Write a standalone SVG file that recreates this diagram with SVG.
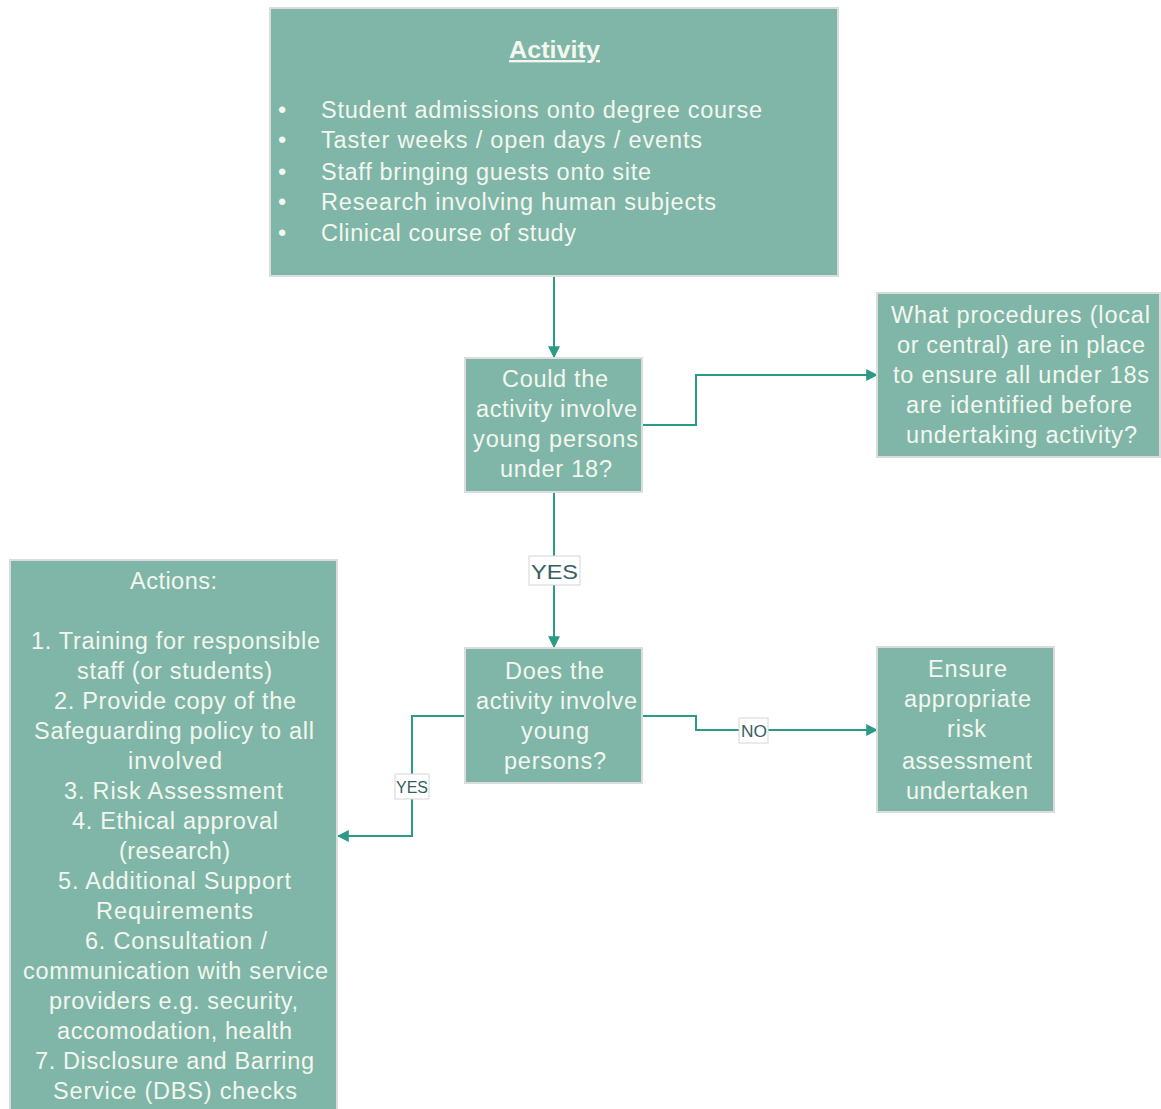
<svg xmlns="http://www.w3.org/2000/svg" width="1161" height="1109" viewBox="0 0 1161 1109">
<style>
.box{fill:#7fb6a7;stroke:#dcdcdc;stroke-width:2}
.t{font-family:"Liberation Sans",Arial,sans-serif;font-size:23.5px;fill:#f3f7ef}
.c{stroke:#2b9a86;stroke-width:2;fill:none}
.lb{fill:#ffffff;stroke:#d6d6d6;stroke-width:1}
.lt{font-family:"Liberation Sans",Arial,sans-serif;fill:#345f62}
</style>
<defs>
<marker id="ah" viewBox="0 0 10 10" refX="9" refY="5" markerWidth="6" markerHeight="6" orient="auto" markerUnits="strokeWidth">
<path d="M0,0 L10,5 L0,10 z" fill="#2b9a86"/>
</marker>
</defs>
<rect width="1161" height="1109" fill="#ffffff"/>
<g id="connectors">
<path class="c" d="M554,276 V357" marker-end="url(#ah)"/>
<path class="c" d="M642,425 H696 V375 H877" marker-end="url(#ah)"/>
<path class="c" d="M554,492 V647" marker-end="url(#ah)"/>
<path class="c" d="M642,716 H696 V730 H877" marker-end="url(#ah)"/>
<path class="c" d="M465,716 H412 V836 H338" marker-end="url(#ah)"/>
<rect class="lb" x="529" y="556" width="51" height="29"/>
<text class="lt" x="531" y="579" font-size="21" textLength="47" lengthAdjust="spacingAndGlyphs">YES</text>
<rect class="lb" x="739" y="718" width="29" height="25"/>
<text class="lt" x="741" y="737" font-size="16" textLength="26" lengthAdjust="spacingAndGlyphs">NO</text>
<rect class="lb" x="395" y="774" width="34" height="25"/>
<text class="lt" x="396" y="793" font-size="16" textLength="32" lengthAdjust="spacingAndGlyphs">YES</text>
</g>
<g id="activity">
<rect class="box" x="270" y="8" width="568" height="268"/>
<text class="t" x="509" y="58" font-weight="bold" text-decoration="underline" textLength="91" lengthAdjust="spacingAndGlyphs">Activity</text>
<text class="t" x="278" y="118">•</text>
<text class="t" x="278" y="148">•</text>
<text class="t" x="278" y="180">•</text>
<text class="t" x="278" y="210">•</text>
<text class="t" x="278" y="241">•</text>
<text class="t" x="321" y="118" textLength="441">Student admissions onto degree course</text>
<text class="t" x="321" y="148" textLength="381">Taster weeks / open days / events</text>
<text class="t" x="321" y="180" textLength="330">Staff bringing guests onto site</text>
<text class="t" x="321" y="210" textLength="395">Research involving human subjects</text>
<text class="t" x="321" y="241" textLength="255">Clinical course of study</text>
</g>
<g id="could">
<rect class="box" x="465" y="358" width="177" height="134"/>
<text class="t" x="502" y="387" textLength="106">Could the</text>
<text class="t" x="476" y="417" textLength="161">activity involve</text>
<text class="t" x="473" y="447" textLength="165">young persons</text>
<text class="t" x="500" y="477" textLength="112">under 18?</text>
</g>
<g id="procedures">
<rect class="box" x="877" y="293" width="283" height="164"/>
<text class="t" x="891" y="323" textLength="259">What procedures (local</text>
<text class="t" x="897" y="353" textLength="248">or central) are in place</text>
<text class="t" x="893" y="383" textLength="256">to ensure all under 18s</text>
<text class="t" x="906" y="413" textLength="226">are identified before</text>
<text class="t" x="906" y="443" textLength="231">undertaking activity?</text>
</g>
<g id="does">
<rect class="box" x="465" y="648" width="177" height="135"/>
<text class="t" x="505" y="679" textLength="99">Does the</text>
<text class="t" x="476" y="709" textLength="161">activity involve</text>
<text class="t" x="521" y="739" textLength="68">young</text>
<text class="t" x="504" y="769" textLength="102">persons?</text>
</g>
<g id="ensure">
<rect class="box" x="877" y="647" width="177" height="165"/>
<text class="t" x="928" y="677" textLength="79">Ensure</text>
<text class="t" x="904" y="707" textLength="127">appropriate</text>
<text class="t" x="947" y="737" textLength="39">risk</text>
<text class="t" x="902" y="769" textLength="130">assessment</text>
<text class="t" x="906" y="799" textLength="122">undertaken</text>
</g>
<g id="actions">
<rect class="box" x="10" y="560" width="327" height="560"/>
<text class="t" x="130" y="589" textLength="87">Actions:</text>
<text class="t" x="31" y="649" textLength="289">1. Training for responsible</text>
<text class="t" x="77" y="679" textLength="195">staff (or students)</text>
<text class="t" x="54" y="709" textLength="242">2. Provide copy of the</text>
<text class="t" x="34" y="739" textLength="280">Safeguarding policy to all</text>
<text class="t" x="128" y="769" textLength="94">involved</text>
<text class="t" x="64" y="799" textLength="219">3. Risk Assessment</text>
<text class="t" x="72" y="829" textLength="206">4. Ethical approval</text>
<text class="t" x="119" y="859" textLength="111">(research)</text>
<text class="t" x="58" y="889" textLength="233">5. Additional Support</text>
<text class="t" x="96" y="919" textLength="157">Requirements</text>
<text class="t" x="85" y="949" textLength="182">6. Consultation /</text>
<text class="t" x="23" y="979" textLength="305">communication with service</text>
<text class="t" x="49" y="1009" textLength="249">providers e.g. security,</text>
<text class="t" x="57" y="1039" textLength="235">accomodation, health</text>
<text class="t" x="35" y="1069" textLength="279">7. Disclosure and Barring</text>
<text class="t" x="53" y="1099" textLength="244">Service (DBS) checks</text>
</g>
</svg>
